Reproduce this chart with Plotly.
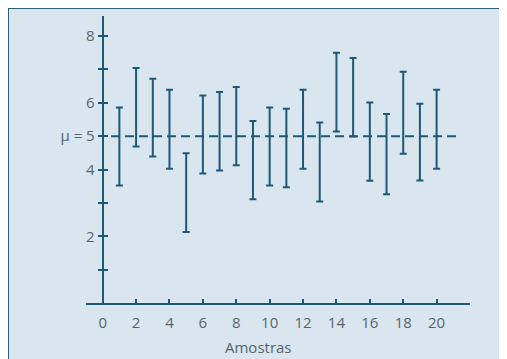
import plotly.graph_objects as go

# ---- data ----
samples = list(range(1, 21))
lower = [3.52, 4.69, 4.39, 4.02, 2.13, 3.88, 3.97, 4.13, 3.11, 3.52,
         3.47, 4.02, 3.04, 5.14, 4.99, 3.66, 3.26, 4.47, 3.67, 4.02]
upper = [5.86, 7.04, 6.72, 6.39, 4.49, 6.22, 6.32, 6.47, 5.45, 5.86,
         5.82, 6.39, 5.41, 7.50, 7.34, 6.01, 5.66, 6.93, 5.97, 6.39]
mu = 5
mu_line_x = [0.5, 21.3]
x_tickvals = list(range(0, 21, 2))
x_ticktext = [str(v) for v in x_tickvals]
y_tickvals = [1, 2, 3, 4, 5, 6, 7, 8]
y_ticktext = ["", "2", "", "4", "\u03bc\u00a0=\u00a05", "6", "", "8"]
x_title = "Amostras"

# ---- style ----
W, H = 499, 351          # page body has an 8px margin
ML, MR, MT, MB = 78, 37, 8, 56
PW, PH = W - ML - MR, H - MT - MB
XR = [-1, 22]
YR = [0, 8.6]
LINE = "#1d5877"
PANEL = "#dae6ef"
BORDER = "#2e5d76"
TXT = "#56646e"
FONT = "Open Sans"

def px_x(p):
    return (p - ML) / PW

def px_y(p):
    return (H - MB - p) / PH

mid = [(a + b) / 2 for a, b in zip(lower, upper)]
plus = [b - m for b, m in zip(upper, mid)]
minus = [m - a for a, m in zip(lower, mid)]

fig = go.Figure()
fig.add_trace(go.Scatter(
    x=samples, y=mid, mode="markers",
    marker=dict(size=1, opacity=0),
    error_y=dict(type="data", symmetric=False, array=plus, arrayminus=minus,
                 color=LINE, thickness=2, width=3.5),
    showlegend=False, hoverinfo="skip"))
fig.add_trace(go.Scatter(
    x=mu_line_x, y=[mu, mu], mode="lines",
    line=dict(color=LINE, width=2, dash="9px,5px"),
    showlegend=False, hoverinfo="skip"))
fig.add_trace(go.Scatter(x=[None], y=[None], yaxis="y2", showlegend=False))

yaxis_common = dict(range=YR, tickvals=y_tickvals, showgrid=False, zeroline=False,
                    anchor="free", position=(0 - XR[0]) / (XR[1] - XR[0]),
                    tickcolor=LINE, ticklen=4, tickwidth=1.5)

fig.update_layout(
    width=W, height=H,
    margin=dict(l=ML, r=MR, t=MT, b=MB),
    paper_bgcolor=PANEL, plot_bgcolor=PANEL,
    font=dict(family=FONT, size=15, color=TXT),
    xaxis=dict(range=XR, tickvals=x_tickvals, ticktext=x_ticktext,
               showgrid=False, zeroline=False, showline=True, linecolor=LINE, linewidth=2,
               ticks="inside", ticklen=4, tickwidth=1.5, tickcolor=LINE,
               ticklabelstandoff=5, tickfont=dict(size=15, color=TXT)),
    yaxis=dict(**yaxis_common, ticktext=y_ticktext, showline=True, linecolor=LINE, linewidth=2,
               ticks="outside", tickfont=dict(size=15, color=TXT)),
    yaxis2=dict(**yaxis_common, overlaying="y", showticklabels=False, showline=False,
                ticks="inside"),
    annotations=[dict(text=x_title, xref="x", yref="paper", x=9.35, y=px_y(339),
                      showarrow=False, xanchor="center", yanchor="middle",
                      font=dict(size=15, color=TXT, family=FONT))],
    shapes=[
        dict(type="line", xref="paper", yref="paper", x0=px_x(0), x1=px_x(W), y0=px_y(0), y1=px_y(0),
             line=dict(color=BORDER, width=2), layer="below"),
        dict(type="line", xref="paper", yref="paper", x0=px_x(0), x1=px_x(0), y0=px_y(0), y1=px_y(H),
             line=dict(color=BORDER, width=2), layer="below"),
        dict(type="rect", xref="paper", yref="paper", x0=px_x(W - 16), x1=px_x(W), y0=px_y(1), y1=px_y(H),
             fillcolor=PANEL, line=dict(width=0), layer="above"),
    ],
)

fig.write_html("out.html")
